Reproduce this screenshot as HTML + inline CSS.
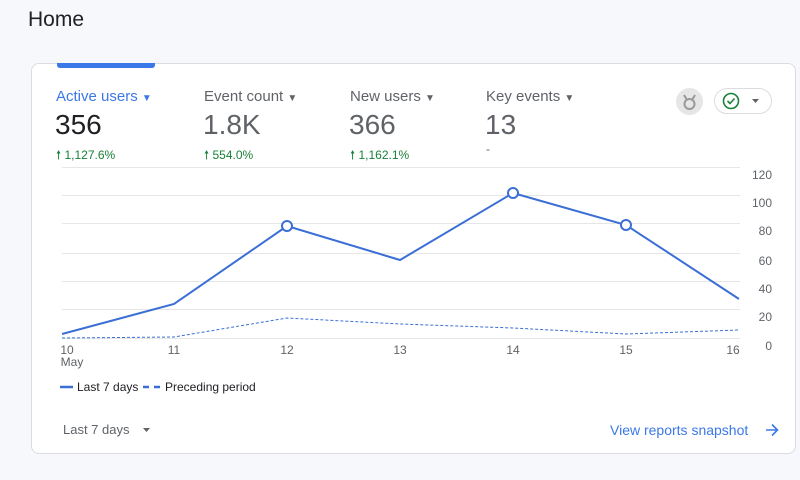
<!DOCTYPE html>
<html><head><style>
body{margin:0;width:800px;height:480px;background:#f6f8fb;font-family:"Liberation Sans",sans-serif;position:relative;overflow:hidden}
.a{position:absolute;white-space:nowrap}
</style></head><body>
<div class="a" style="left:28px;top:8px;font-size:21px;color:#202124">Home</div>
<div class="a" style="left:31px;top:63px;width:765px;height:391px;background:#fff;border:1px solid #dadce0;border-radius:8px;box-sizing:border-box"></div>
<div class="a" style="left:57px;top:63px;width:98px;height:5px;background:#3b78e7;border-radius:0 0 3px 3px"></div>

<div class="a" style="left:56px;top:88px;font-size:15px;color:#3b78e7">Active users <span style="font-size:10px">▼</span></div>
<div class="a" style="left:55px;top:109px;font-size:28px;color:#202124">356</div>
<div class="a" style="left:56px;top:146px;font-size:12px;color:#188038">🠕 1,127.6%</div>

<div class="a" style="left:204px;top:88px;font-size:15px;color:#5f6368">Event count <span style="font-size:10px">▼</span></div>
<div class="a" style="left:203px;top:109px;font-size:28px;color:#5f6368">1.8K</div>
<div class="a" style="left:204px;top:146px;font-size:12px;color:#188038">🠕 554.0%</div>

<div class="a" style="left:350px;top:88px;font-size:15px;color:#5f6368">New users <span style="font-size:10px">▼</span></div>
<div class="a" style="left:349px;top:109px;font-size:28px;color:#5f6368">366</div>
<div class="a" style="left:350px;top:146px;font-size:12px;color:#188038">🠕 1,162.1%</div>

<div class="a" style="left:486px;top:88px;font-size:15px;color:#5f6368">Key events <span style="font-size:10px">▼</span></div>
<div class="a" style="left:485px;top:109px;font-size:28px;color:#5f6368">13</div>
<div class="a" style="left:486px;top:142px;font-size:12px;color:#5f6368">-</div>

<svg class="a" style="left:676px;top:88px" width="28" height="28"><circle cx="13.5" cy="13.5" r="13.5" fill="#e6e6e6"/><path d="M8 7l3 5M19 7l-3 5" stroke="#999" stroke-width="2" fill="none"/><circle cx="13.5" cy="16" r="5" fill="none" stroke="#999" stroke-width="2"/></svg>
<div class="a" style="left:714px;top:88px;width:58px;height:26px;border:1px solid #dadce0;border-radius:14px;box-sizing:border-box"></div>
<svg class="a" style="left:714px;top:88px" width="60" height="28"><circle cx="17" cy="13" r="7.5" fill="none" stroke="#188038" stroke-width="1.6"/><path d="M13.5 13l2.5 2.5 4.5-5" fill="none" stroke="#188038" stroke-width="1.6"/><path d="M38 11h7l-3.5 4z" fill="#5f6368"/></svg>

<svg class="a" style="left:0;top:0" width="800" height="480">
<g stroke="#e6e6e6" stroke-width="1">
<line x1="62" x2="740" y1="167.5" y2="167.5"/><line x1="62" x2="740" y1="195.5" y2="195.5"/>
<line x1="62" x2="740" y1="223.5" y2="223.5"/><line x1="62" x2="740" y1="253.5" y2="253.5"/>
<line x1="62" x2="740" y1="281.5" y2="281.5"/><line x1="62" x2="740" y1="309.5" y2="309.5"/>
<line x1="62" x2="740" y1="338.5" y2="338.5"/>
</g>
<g fill="#5f6368" font-size="12" font-family="Liberation Sans" text-anchor="end">
<text x="772" y="179">120</text><text x="772" y="207">100</text><text x="772" y="235">80</text>
<text x="772" y="265">60</text><text x="772" y="293">40</text><text x="772" y="321">20</text><text x="772" y="350">0</text>
</g>
<g fill="#5f6368" font-size="12" font-family="Liberation Sans" text-anchor="middle">
<text x="67" y="354">10</text><text x="72" y="366">May</text><text x="174" y="354">11</text><text x="287" y="354">12</text>
<text x="400" y="354">13</text><text x="513" y="354">14</text><text x="626" y="354">15</text><text x="733" y="354">16</text>
</g>
<polyline points="62,338 174,337 287,318 400,324 513,328 626,334 739,330" fill="none" stroke="#3b6fd6" stroke-width="1" stroke-dasharray="3,2"/>
<polyline points="62,334 174,304 287,226 400,260 513,193 626,225 739,299" fill="none" stroke="#3b6fd6" stroke-width="2"/>
<g fill="#fff" stroke="#3b6fd6" stroke-width="2"><circle cx="287" cy="226" r="5"/><circle cx="513" cy="193" r="5"/><circle cx="626" cy="225" r="5"/></g>
<line x1="60" x2="73" y1="387" y2="387" stroke="#3b6fd6" stroke-width="2.5"/>
<line x1="143" x2="149" y1="387" y2="387" stroke="#3b6fd6" stroke-width="2.5"/><line x1="154" x2="160" y1="387" y2="387" stroke="#3b6fd6" stroke-width="2.5"/>
<text x="77" y="391" font-size="12" fill="#202124" font-family="Liberation Sans">Last 7 days</text>
<text x="165" y="391" font-size="12" fill="#202124" font-family="Liberation Sans">Preceding period</text>
<text x="63" y="434" font-size="13" fill="#5f6368" font-family="Liberation Sans">Last 7 days</text>
<path d="M143 428h7l-3.5 4z" fill="#5f6368"/>
<text x="610" y="435" font-size="14" fill="#3b78e7" font-family="Liberation Sans">View reports snapshot</text>
<path d="M766 430h11M772 424.5l5.5 5.5-5.5 5.5" fill="none" stroke="#3b78e7" stroke-width="1.6"/>
</svg>
</body></html>
